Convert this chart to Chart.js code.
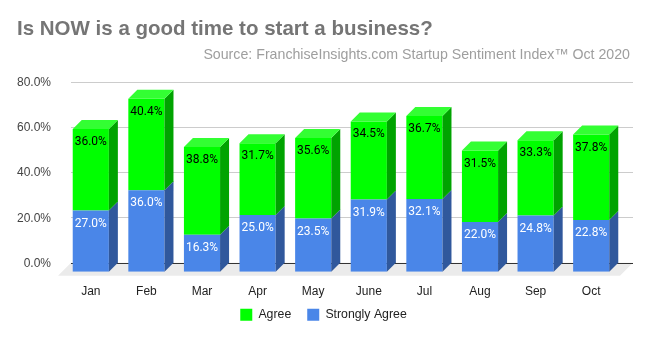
<!DOCTYPE html>
<html>
<head>
<meta charset="utf-8">
<script src="https://cdn.jsdelivr.net/npm/chart.js@4.4.0/dist/chart.umd.min.js"></script>
<style>
  html, body { margin: 0; padding: 0; background: #ffffff; }
  #wrap { width: 650px; height: 338px; position: relative; }
</style>
</head>
<body>
<div id="wrap"><canvas id="c" width="650" height="338"></canvas></div>
<script>
const categories = ['Jan', 'Feb', 'Mar', 'Apr', 'May', 'June', 'Jul', 'Aug', 'Sep', 'Oct'];
const stronglyAgree = [27.0, 36.0, 16.3, 25.0, 23.5, 31.9, 32.1, 22.0, 24.8, 22.8];
const agree = [36.0, 40.4, 38.8, 31.7, 35.6, 34.5, 36.7, 31.5, 33.3, 37.8];
const yTicks = [0, 20, 40, 60, 80];
const titleText = 'Is NOW is a good time to start a business?';
const subtitleText = 'Source: FranchiseInsights.com Startup Sentiment Index\u2122 Oct 2020';

const DEPTH = 9;        // bar depth offset (px, right & up)
const FLOOR_FRONT = 4;  // floor extends this far in front of bars

const faceColors = [
  { front: '#4a86e8', side: '#30589c', top: '#6f9ff0', label: '#ffffff' },
  { front: '#00ff00', side: '#00a300', top: '#33ff33', label: '#000000' }
];

const threeD = {
  id: 'threeD',
  beforeDatasetsDraw(chart) {
    const ctx = chart.ctx;
    const a = chart.chartArea;
    const y = chart.scales.y;
    const y0 = y.getPixelForValue(0);
    const fl = a.left - 5, fr = a.right + 1;
    const back = DEPTH + FLOOR_FRONT;
    ctx.save();
    // floor
    ctx.fillStyle = '#ebebeb';
    ctx.beginPath();
    ctx.moveTo(fl, y0 + FLOOR_FRONT);
    ctx.lineTo(fr, y0 + FLOOR_FRONT);
    ctx.lineTo(fr + back, y0 - DEPTH);
    ctx.lineTo(fl + back, y0 - DEPTH);
    ctx.closePath();
    ctx.fill();
    // gridlines on back plane
    yTicks.forEach(v => {
      const py = Math.round(y.getPixelForValue(v) - DEPTH) + 0.5;
      ctx.strokeStyle = v === 0 ? '#333333' : '#cccccc';
      ctx.lineWidth = 1;
      ctx.beginPath();
      ctx.moveTo(fl + back, py);
      ctx.lineTo(fr + back, py);
      ctx.stroke();
    });
    ctx.restore();
  },
  afterDatasetsDraw(chart) {
    const ctx = chart.ctx;
    ctx.save();
    const n = chart.data.datasets.length;
    chart.data.datasets.forEach((ds, di) => {
      const meta = chart.getDatasetMeta(di);
      const col = faceColors[di];
      meta.data.forEach((el) => {
        const p = el.getProps(['x', 'y', 'base', 'width'], true);
        const l = p.x - p.width / 2, r = p.x + p.width / 2;
        // side face
        ctx.fillStyle = col.side;
        ctx.beginPath();
        ctx.moveTo(r, p.y);
        ctx.lineTo(r + DEPTH, p.y - DEPTH);
        ctx.lineTo(r + DEPTH, p.base - DEPTH);
        ctx.lineTo(r, p.base);
        ctx.closePath();
        ctx.fill();
        if (di === n - 1) {
          ctx.fillStyle = col.top;
          ctx.beginPath();
          ctx.moveTo(l, p.y);
          ctx.lineTo(l + DEPTH, p.y - DEPTH);
          ctx.lineTo(r + DEPTH, p.y - DEPTH);
          ctx.lineTo(r, p.y);
          ctx.closePath();
          ctx.fill();
        }
      });
    });
    // value labels
    ctx.font = '12px Roboto';
    ctx.textAlign = 'center';
    ctx.textBaseline = 'middle';
    chart.data.datasets.forEach((ds, di) => {
      const meta = chart.getDatasetMeta(di);
      ctx.fillStyle = faceColors[di].label;
      meta.data.forEach((el, i) => {
        const p = el.getProps(['x', 'y'], true);
        ctx.fillText(ds.data[i].toFixed(1) + '%', p.x, p.y + 13);
      });
    });
    ctx.restore();
  }
};

new Chart(document.getElementById('c'), {
  type: 'bar',
  data: {
    labels: categories,
    datasets: [
      { label: 'Strongly Agree', data: stronglyAgree, backgroundColor: faceColors[0].front, borderWidth: 0 },
      { label: 'Agree', data: agree, backgroundColor: faceColors[1].front, borderWidth: 0 }
    ]
  },
  options: {
    responsive: false,
    animation: false,
    devicePixelRatio: 1,
    layout: { padding: { left: 17, right: 20, top: 0, bottom: 7 } },
    datasets: { bar: { barPercentage: 0.65, categoryPercentage: 1.0 } },
    plugins: {
      title: {
        display: true, text: titleText, align: 'start',
        color: '#757575', font: { family: 'Liberation Sans', size: 20.5, weight: 'bold' },
        padding: { top: 17, bottom: 0 }
      },
      subtitle: {
        display: true, text: subtitleText, align: 'end',
        color: '#9e9e9e', font: { family: 'Liberation Sans', size: 14.2, weight: 'normal' },
        padding: { top: 5, bottom: 27 }
      },
      legend: {
        position: 'bottom', reverse: true,
        labels: { boxWidth: 12, boxHeight: 12, padding: 16, color: '#222222',
                  font: { family: 'Liberation Sans', size: 12.3 } }
      },
      tooltip: { enabled: false }
    },
    scales: {
      x: {
        stacked: true,
        afterFit(s) { s.height = 21; s._computeLabelArea = () => undefined; },
        grid: { display: false, drawTicks: false },
        border: { display: false },
        ticks: { color: '#222222', padding: 13, font: { family: 'Liberation Sans', size: 12 } }
      },
      y: {
        stacked: true, min: 0, max: 80,
        afterFit(s) { s.width = 46; },
        grid: { display: false, drawTicks: false },
        border: { display: false },
        ticks: { stepSize: 20, labelOffset: -8, padding: 12, color: '#444444',
                 font: { family: 'Liberation Sans', size: 12 },
                 callback: v => v.toFixed(1) + '%' }
      },
      yR: {
        position: 'right', display: true, min: 0, max: 80,
        afterFit(s) { s.width = 11; },
        grid: { display: false, drawTicks: false },
        border: { display: false },
        ticks: { display: false }
      }
    }
  },
  plugins: [threeD]
});
</script>
</body>
</html>
